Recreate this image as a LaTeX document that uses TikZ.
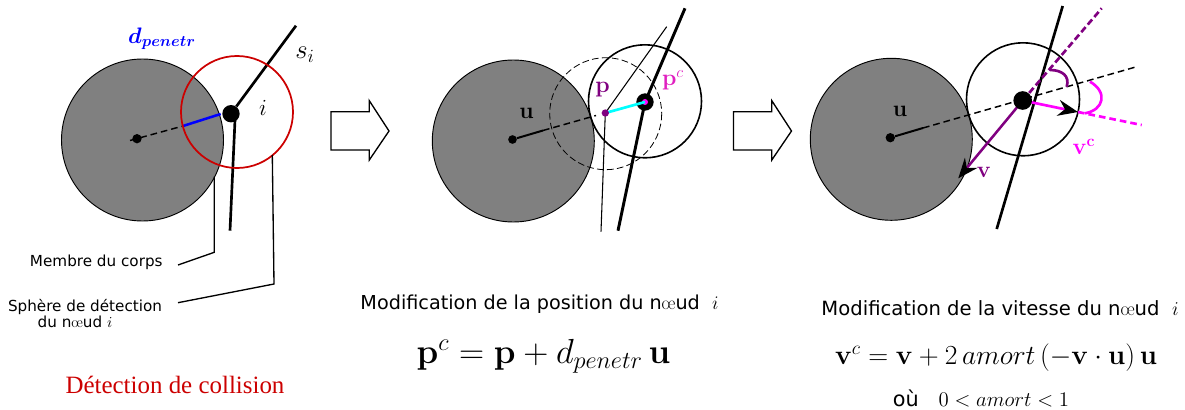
\RequirePackage{fix-cm}
\documentclass[tikz,border=0pt]{standalone}
\usepackage{amsmath}
\usepackage[no-math]{fontspec}
\setmainfont{DejaVu Sans}
\newfontfamily\lmfont{Latin Modern Roman}
\newfontfamily\serifred{Liberation Serif}
\usetikzlibrary{arrows.meta}
\definecolor{memb}{gray}{0.5}
\definecolor{redc}{RGB}{204,0,0}
\definecolor{purp}{RGB}{128,0,128}
\definecolor{magc}{RGB}{255,0,255}
\definecolor{pcol}{RGB}{224,32,192}
\definecolor{cyanc}{RGB}{0,255,255}
\definecolor{bluec}{RGB}{0,0,255}
\newcommand{\noeud}{n{\lmfont œ}ud}
\tikzset{
  x=0.75pt,y=-0.75pt,
  memberdisc/.style={draw=black,fill=memb,line width=0.7pt},
  sphere/.style={draw=black,line width=1.2pt},
  bone/.style={draw=black,line width=2.2pt},
  leader/.style={draw=black,line width=1pt},
  axisline/.style={draw=black,line width=1.1pt,dash pattern=on 5pt off 3pt},
  label/.style={inner sep=0pt,font=\fontsize{11.4}{12}\selectfont},
  title/.style={inner sep=0pt,font=\fontsize{14.4}{16}\selectfont},
  bigarrow/.style={draw=black,fill=white,line width=1pt},
  headb/.style={-{Stealth[length=15pt,width=12pt,inset=5pt,color=black]}},
  dot/.style={circle,fill=black,inner sep=0pt},
}
\begin{document}
\begin{tikzpicture}
\useasboundingbox (0,0) rectangle (1185,410);
% ---------- panel 1
\draw[memberdisc] (142.5,140) circle[radius=81];
\node[dot,minimum size=7pt] (a) at (137,138.7) {};
\node[dot,minimum size=13pt] (ai) at (231,113.7) {};
\coordinate (as) at (296,25.7);
\coordinate (al) at (230,230.7);
\coordinate (ab1) at (183,126);
\coordinate (ab2) at (220.7,114);
\coordinate (al0) at (235,120);
\draw[bone,line width=2pt] (ai) -- (as);
\draw[bone,line width=2pt] (al0) -- (al);
\draw[axisline] (130,140.5) -- (ab1);
\draw[bluec,line width=1.9pt] (ab1) -- (ab2);
\draw[redc,line width=1.3pt] (237,112) circle[radius=56];
\node[font=\boldmath\fontsize{16.8}{18}\selectfont,text=bluec] (dp) at (162,39) {$d_{penetr}$};
\node[font=\fontsize{20}{22}\selectfont] (si) at (305,55) {$s_i$};
\node[font=\fontsize{17.3}{20}\selectfont] (ii) at (263,108) {$i$};
\coordinate (m1) at (214.3,176.7);
\coordinate (m2) at (214.3,252.3);
\coordinate (m3) at (178,265);
\coordinate (s1) at (272.3,155);
\coordinate (s2) at (274,284);
\coordinate (s3) at (178,302.7);
\draw[leader] (m1) -- (m2) -- (m3);
\draw[leader] (s1) -- (s2) -- (s3);
\node[label] (mem) at (96.3,262) {Membre du corps};
\node[label] (sph) at (85,307) {Sphère de détection};
\node[label] (dun) at (75,322) {du \noeud{} $i$};
\node[font=\serifred\fontsize{18.7}{20}\selectfont,text=redc,inner sep=0pt] (det) at (175,385) {Détection de collision};
% big arrows
\draw[bigarrow] (331,111.7) -- (369.3,111.7) -- (369.3,100.7) -- (389,131) -- (369.3,160) -- (369.3,150) -- (331,150) -- cycle;
\draw[bigarrow] (733.5,111.7) -- (771.8,111.7) -- (771.8,100.7) -- (791.5,131) -- (771.8,160) -- (771.8,150) -- (733.5,150) -- cycle;
% ---------- panel 2
\draw[memberdisc] (513.3,141) circle[radius=81];
\node[dot,minimum size=6.5pt] (b) at (512.5,139.5) {};
\coordinate (bn) at (645,102);
\coordinate (bp) at (605.3,113);
\coordinate (bmid) at (543,130.5);
\coordinate (bt) at (685,8.3);
\coordinate (bl) at (618,230.7);
\coordinate (bt2) at (666.7,26.7);
\coordinate (bl2) at (601,231.7);
\draw[line width=0.8pt] (bp) -- (bt2);
\draw[line width=0.8pt] (bp) -- (bl2);
\draw[bone] (bt) -- (bn) -- (bl);
\draw[draw=black,line width=0.6pt,dash pattern=on 5pt off 2.5pt] (605.7,113.7) circle[radius=56];
\draw[sphere] (645,101.3) circle[radius=56.5];
\draw[draw=black,line width=1.5pt] (b) -- (bmid);
\draw[axisline] (bmid) -- (596,115.5);
\node[dot,minimum size=13pt] (bnode) at (bn) {};
\fill[magc] (bn) circle[radius=3];
\draw[cyanc,line width=2pt] (bp) -- (bn);
\node[circle,fill=purp,inner sep=0pt,minimum size=5.5pt] (bpd) at (bp) {};
\node[font=\fontsize{17.3}{18}\selectfont] (bu) at (526.7,113) {$\mathbf{u}$};
\node[font=\fontsize{17.3}{18}\selectfont,text=purp] (bpl) at (602.7,90) {$\mathbf{p}$};
\node[font=\fontsize{17.3}{18}\selectfont,text=pcol] (bpc) at (673,80) {$\mathbf{p}^c$};
\node[title] (t2) at (539.5,304) {Modification de la position du \noeud{} \ $i$};
\node[font=\fontsize{26.1}{30}\selectfont] (e2) at (543.5,356) {$\mathbf{p}^c=\mathbf{p}+d_{penetr}\,\mathbf{u}$};
% ---------- panel 3
\draw[memberdisc] (891.3,139.3) circle[radius=81];
\node[dot,minimum size=7pt] (c) at (890.3,137.7) {};
\coordinate (cn) at (1022.7,100.5);
\coordinate (cmid) at (923,128);
\coordinate (cend) at (1136.7,66.7);
\coordinate (ct) at (1062.7,6);
\coordinate (cl) at (996.7,229);
\coordinate (cv) at (958.3,178.3);
\coordinate (cpd) at (1101.7,8.3);
\coordinate (cm) at (1078,112);
\coordinate (cmd) at (1141.7,125);
\draw[bone,line width=2pt] (ct) -- (cl);
\draw[sphere] (1023,99.3) circle[radius=56.5];
\draw[draw=black,line width=1.5pt] (c) -- (cmid);
\draw[axisline] (cmid) -- (cend);
\draw[purp,line width=2pt,dash pattern=on 5pt off 2.5pt] (cn) -- (cpd);
\draw[purp,line width=1.9pt,headb] (cn) -- (cv);
\draw[magc,line width=2pt,headb] (cn) -- (cm);
\draw[magc,line width=2pt,dash pattern=on 5pt off 3pt] (cm) -- (cmd);
\draw[purp,line width=2pt] (1050,70) .. controls (1062,70) and (1070,76) .. (1066.7,86.7);
\draw[magc,line width=2pt] (1090,81.7) .. controls (1108,92) and (1104,110) .. (1085,113.3);
\node[dot,minimum size=14pt] (cnode) at (cn) {};
\node[font=\fontsize{17.3}{18}\selectfont] (cu) at (900,111.5) {$\mathbf{u}$};
\node[font=\fontsize{17.3}{18}\selectfont,text=purp] (cvl) at (984,172) {$\mathbf{v}$};
\node[font=\fontsize{17.3}{18}\selectfont,text=magc] (cvc) at (1084,147) {$\mathbf{v}^{\mathbf{c}}$};
\node[title,font=\fontsize{14.7}{16}\selectfont] (t3) at (1000,308) {Modification de la vitesse du \noeud{} \ $i$};
\node[font=\fontsize{20.7}{23}\selectfont] (e3) at (996,358) {$\mathbf{v}^c=\mathbf{v}+2\,amort\,(-\mathbf{v}\cdot\mathbf{u})\,\mathbf{u}$};
\node[font=\fontsize{15.6}{17}\selectfont] (ou) at (981,398) {où \ \ $0<amort<1$};
\end{tikzpicture}
\end{document}
